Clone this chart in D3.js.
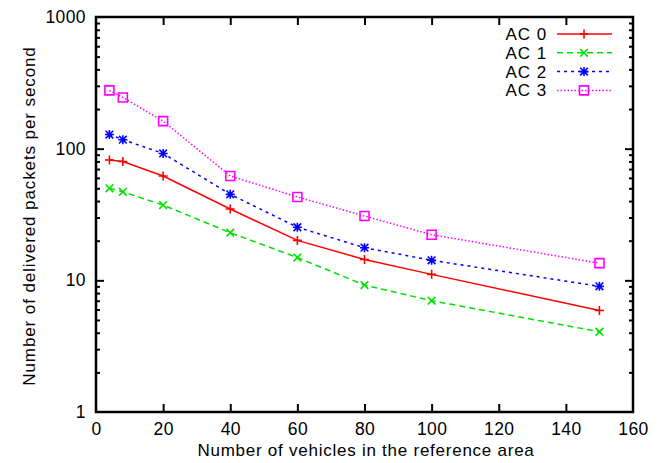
<!DOCTYPE html>
<html><head><meta charset="utf-8">
<script src="https://cdn.jsdelivr.net/npm/d3@7"></script>
<style>body{margin:0;background:#fff}svg{display:block;font-family:"Liberation Sans",Arial,Helvetica,sans-serif}</style>
</head><body><svg id="c" width="664" height="463"></svg>
<script>
const xValues = [4, 8, 20, 40, 60, 80, 100, 150];
const seriesNames = ["AC 0", "AC 1", "AC 2", "AC 3"];
const ac0 = [82, 80, 62, 34.8, 20.1, 14.4, 11.1, 5.9];
const ac1 = [50, 47, 37.3, 23, 14.9, 9.2, 7.0, 4.07];
const ac2 = [128, 117, 92, 45, 25.3, 17.7, 14.2, 9.0];
const ac3 = [277, 245, 162, 62, 43, 30.8, 22.2, 13.5];
const xTicks = [0, 20, 40, 60, 80, 100, 120, 140, 160];
const yTicks = [1, 10, 100, 1000];
const xLabel = "Number of vehicles in the reference area";
const yLabel = "Number of delivered packets per second";

const series = [
  {name: seriesNames[0], values: ac0, color: "#ff0000", dash: null, marker: "plus"},
  {name: seriesNames[1], values: ac1, color: "#00e000", dash: "6,4", marker: "cross"},
  {name: seriesNames[2], values: ac2, color: "#0000ff", dash: "3,4", marker: "star"},
  {name: seriesNames[3], values: ac3, color: "#ff00ff", dash: "1.5,2", marker: "square"}
];

const L = 96, R = 633, T = 17, B = 412;
const svg = d3.select("#c");
const x = d3.scaleLinear().domain([0, 160]).range([L, R]);
const y = d3.scaleLog().domain([1, 1000]).range([B, T]);

const minor = [];
for (let d = 1; d < 1000; d *= 10) for (let k = 2; k <= 9; k++) minor.push(d * k);

const tickFont = g => g.selectAll("text").style("font-size", "17.5px").style("letter-spacing", "0.4px").attr("fill", "#000");
const axesG = svg.append("g");
axesG.append("g").attr("transform", `translate(${L},0)`)
  .call(d3.axisLeft(y).tickValues(yTicks).tickFormat(d3.format("d")).tickSize(-8).tickPadding(10))
  .call(tickFont);
axesG.append("g").attr("transform", `translate(${L},0)`)
  .call(d3.axisLeft(y).tickValues(minor).tickFormat("").tickSize(-4));
axesG.append("g").attr("transform", `translate(${R},0)`)
  .call(d3.axisRight(y).tickValues(yTicks).tickFormat("").tickSize(-8));
axesG.append("g").attr("transform", `translate(${R},0)`)
  .call(d3.axisRight(y).tickValues(minor).tickFormat("").tickSize(-4));
axesG.append("g").attr("transform", `translate(0,${B})`)
  .call(d3.axisBottom(x).tickValues(xTicks).tickSize(-8).tickPadding(11))
  .call(tickFont);
axesG.append("g").attr("transform", `translate(0,${T})`)
  .call(d3.axisTop(x).tickValues(xTicks).tickFormat("").tickSize(-8));
axesG.selectAll(".domain").remove();
axesG.selectAll(".tick line").attr("stroke", "#000").attr("stroke-width", 2);
axesG.selectAll(".tick").filter(d => d === 0 || d === 160 || d === 1 || d === 1000).select("line").remove();

svg.append("rect").attr("x", L).attr("y", T).attr("width", R - L).attr("height", B - T)
  .attr("fill", "none").attr("stroke", "#000").attr("stroke-width", 2.5);

function marker(g, type, color, cx, cy) {
  const s = 4.5;
  const p = d3.path();
  if (type === "plus" || type === "star") { p.moveTo(cx - s, cy); p.lineTo(cx + s, cy); p.moveTo(cx, cy - s); p.lineTo(cx, cy + s); }
  if (type === "cross" || type === "star") { const t = s * 0.85; p.moveTo(cx - t, cy - t); p.lineTo(cx + t, cy + t); p.moveTo(cx - t, cy + t); p.lineTo(cx + t, cy - t); }
  if (type === "square") { p.rect(cx - s, cy - s, 2 * s, 2 * s); }
  g.append("path").attr("d", p.toString()).attr("fill", "none").attr("stroke", color).attr("stroke-width", 1.6);
}

const line = d3.line().x((d, i) => x(xValues[i])).y(d => y(d));
series.forEach(s => {
  svg.append("path").datum(s.values).attr("d", line).attr("fill", "none")
    .attr("stroke", s.color).attr("stroke-width", 1.5).attr("stroke-dasharray", s.dash);
  const g = svg.append("g");
  s.values.forEach((v, i) => marker(g, s.marker, s.color, x(xValues[i]), y(v)));
});

const lg = svg.append("g");
series.forEach((s, i) => {
  const yy = 34 + i * 18.8;
  lg.append("text").attr("x", 547).attr("y", yy).attr("dy", "0.35em").attr("text-anchor", "end")
    .style("font-size", "17px").style("letter-spacing", "0.9px").text(s.name);
  lg.append("line").attr("x1", 557).attr("x2", 612).attr("y1", yy).attr("y2", yy)
    .attr("stroke", s.color).attr("stroke-width", 1.5).attr("stroke-dasharray", s.dash);
  marker(lg, s.marker, s.color, 584, yy);
});

svg.append("text").attr("x", 366).attr("y", 456).attr("text-anchor", "middle")
  .style("font-size", "17px").style("letter-spacing", "0.75px").text(xLabel);
svg.append("text").attr("transform", `translate(35,216) rotate(-90)`).attr("text-anchor", "middle")
  .style("font-size", "17px").style("letter-spacing", "0.9px").text(yLabel);
</script></body></html>
